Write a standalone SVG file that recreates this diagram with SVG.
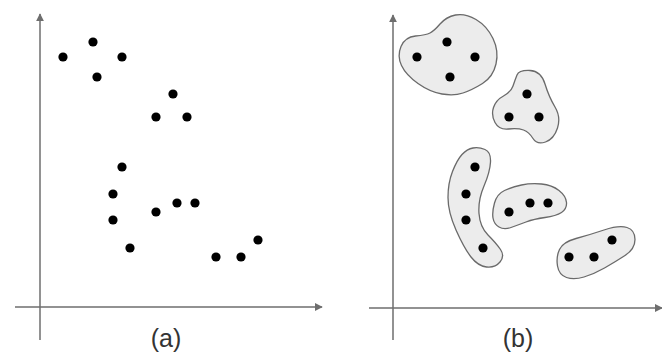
<svg xmlns="http://www.w3.org/2000/svg" width="662" height="356" viewBox="0 0 662 356">
<defs>
<marker id="arr" viewBox="0 0 10 10" refX="9" refY="5" markerWidth="8" markerHeight="8" markerUnits="userSpaceOnUse" orient="auto">
<path d="M0,0 L10,5 L0,10 Z" fill="#6e6e6e"/>
</marker>
<style>
.axis{stroke:#6e6e6e;stroke-width:1.5;fill:none}
.dot{fill:#000}
.blob{fill:#ececec;stroke:#6a6a6a;stroke-width:1.3}
.lbl{font-family:"Liberation Sans",Arial,sans-serif;font-size:25px;fill:#333;text-anchor:middle}
</style>
</defs>
<rect width="662" height="356" fill="#fff"/>
<g id="connectors">
<line class="axis" x1="40" y1="340" x2="40" y2="14" marker-end="url(#arr)"/>
<line class="axis" x1="15" y1="307" x2="322" y2="307" marker-end="url(#arr)"/>
<line class="axis" x1="393" y1="340" x2="393" y2="15" marker-end="url(#arr)"/>
<line class="axis" x1="369" y1="308" x2="662" y2="308" marker-end="url(#arr)"/>
</g>
<g id="panel-a">
<circle class="dot" cx="63" cy="57" r="4.6"/>
<circle class="dot" cx="93" cy="42" r="4.6"/>
<circle class="dot" cx="122" cy="57" r="4.6"/>
<circle class="dot" cx="97" cy="77" r="4.6"/>
<circle class="dot" cx="173" cy="94" r="4.6"/>
<circle class="dot" cx="156" cy="117" r="4.6"/>
<circle class="dot" cx="187" cy="117" r="4.6"/>
<circle class="dot" cx="122" cy="167" r="4.6"/>
<circle class="dot" cx="113" cy="194" r="4.6"/>
<circle class="dot" cx="113" cy="220" r="4.6"/>
<circle class="dot" cx="130" cy="248" r="4.6"/>
<circle class="dot" cx="156" cy="212" r="4.6"/>
<circle class="dot" cx="177" cy="203" r="4.6"/>
<circle class="dot" cx="195" cy="203" r="4.6"/>
<circle class="dot" cx="216" cy="257" r="4.6"/>
<circle class="dot" cx="241" cy="257" r="4.6"/>
<circle class="dot" cx="258" cy="240" r="4.6"/>
<text class="lbl" x="166" y="347">(a)</text>
</g>
<g id="cluster1">
<path class="blob" d="M401.5,65.5 Q397,56 401,46.5 Q405,37 415.5,36 Q426,35 430,33 Q434,31 440,24 Q446,17 455.5,15 Q465,13 476,19.5 Q487,26 493,38.5 Q499,51 496,64 Q493,77 482.5,83.5 Q472,90 463,93 Q454,96 442,94 Q430,92 418,83.5 Q406,75 401.5,65.5 Z"/>
<circle class="dot" cx="417" cy="57" r="4.6"/>
<circle class="dot" cx="447" cy="42" r="4.6"/>
<circle class="dot" cx="475" cy="57" r="4.6"/>
<circle class="dot" cx="450" cy="77" r="4.6"/>
</g>
<g id="cluster2">
<path class="blob" d="M517,75 Q519,70 530,70.5 Q541,71 545,84 Q549,97 555,107 Q561,117 557.5,128 Q554,139 545.5,142 Q537,145 533,138.5 Q529,132 523.5,130 Q518,128 508.5,129 Q499,130 495,122.5 Q491,115 493.5,107.5 Q496,100 503.5,96 Q511,92 513,86 Q515,80 517,75 Z"/>
<circle class="dot" cx="527" cy="94" r="4.6"/>
<circle class="dot" cx="509" cy="117" r="4.6"/>
<circle class="dot" cx="539" cy="117" r="4.6"/>
</g>
<g id="cluster3">
<path class="blob" d="M473,148 Q479,147 485,149.5 Q491,152 490.5,162 Q490,172 484,186 Q478,200 479,213.5 Q480,227 488,235 Q496,243 500.5,249.5 Q505,256 500,262 Q495,268 486.5,267 Q478,266 471,257 Q464,248 456,230 Q448,212 448,197.5 Q448,183 452.5,171.5 Q457,160 462,154.5 Q467,149 473,148 Z"/>
<circle class="dot" cx="475" cy="167" r="4.6"/>
<circle class="dot" cx="466" cy="194" r="4.6"/>
<circle class="dot" cx="466" cy="220" r="4.6"/>
<circle class="dot" cx="483" cy="248" r="4.6"/>
</g>
<g id="cluster4">
<path class="blob" d="M493,218 Q492,212 494.5,203 Q497,194 504.5,190.5 Q512,187 521.5,185 Q531,183 541.5,184 Q552,185 559,190.5 Q566,196 566.5,202.5 Q567,209 561.5,212.5 Q556,216 545,217.5 Q534,219 526,222 Q518,225 511,227.5 Q504,230 499,227 Q494,224 493,218 Z"/>
<circle class="dot" cx="509" cy="212" r="4.6"/>
<circle class="dot" cx="530" cy="203" r="4.6"/>
<circle class="dot" cx="548" cy="203" r="4.6"/>
</g>
<g id="cluster5">
<path class="blob" d="M557.5,266 Q556,257 559.5,249.5 Q563,242 576,238.5 Q589,235 604,230 Q619,225 627,227.5 Q635,230 635,239.5 Q635,249 625,255.5 Q615,262 604.5,268 Q594,274 584,277 Q574,280 566.5,277.5 Q559,275 557.5,266 Z"/>
<circle class="dot" cx="569" cy="257" r="4.6"/>
<circle class="dot" cx="594" cy="257" r="4.6"/>
<circle class="dot" cx="612" cy="240" r="4.6"/>
</g>
<g id="panel-b-label">
<text class="lbl" x="518" y="347">(b)</text>
</g>
</svg>
